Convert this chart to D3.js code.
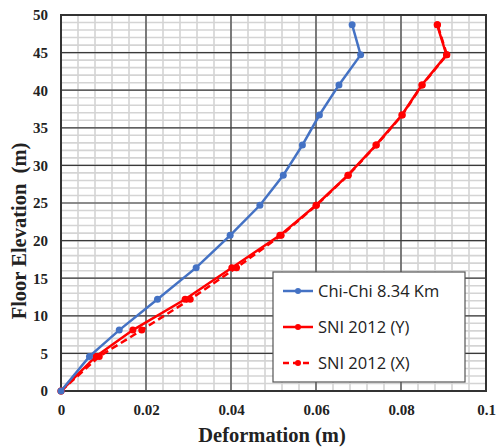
<!doctype html>
<html>
<head>
<meta charset="utf-8"/>
<title>Floor Elevation vs Deformation</title>
<script src="https://d3js.org/d3.v7.min.js"></script>
<style>
  body { margin: 0; background: #fff; }
  .tick text { font-family: "Liberation Serif", serif; font-weight: bold; font-size: 15px; fill: #222; }
</style>
</head>
<body>
<div id="chart"></div>
<script>
// floor levels (m)
var floors = [0, 4.6, 8.1, 12.2, 16.4, 20.7, 24.7, 28.7, 32.7, 36.7, 40.7, 44.7, 48.7];
// deformation (m) per floor
var chiChi = [0, 0.0067, 0.0137, 0.0227, 0.0318, 0.0398, 0.0468, 0.0523, 0.0568, 0.0608, 0.0654, 0.0705, 0.0685];
var sniY   = [0, 0.0082, 0.0169, 0.0292, 0.0402, 0.0515, 0.0600, 0.0675, 0.0741, 0.0802, 0.0849, 0.0907, 0.0885];
var sniX   = [0, 0.0090, 0.0190, 0.0304, 0.0413, 0.0518, 0.0601, 0.0676, 0.0742, 0.0803, 0.0850, 0.0908, 0.0886];

var xTicks = [0, 0.02, 0.04, 0.06, 0.08, 0.1];
var yTicks = [0, 5, 10, 15, 20, 25, 30, 35, 40, 45, 50];

var series = [
  { name: "Chi-Chi 8.34 Km", values: chiChi, color: "#4472C4", dash: null },
  { name: "SNI 2012 (Y)",    values: sniY,   color: "#FF0000", dash: null },
  { name: "SNI 2012 (X)",    values: sniX,   color: "#FF0000", dash: "7,4" }
];

var W = 496, H = 448;
var pL = 61, pR = 486, pT = 15, pB = 391;

var svg = d3.select("#chart").append("svg")
    .attr("width", W)
    .attr("height", H);

var x = d3.scaleLinear().domain([0, 0.1]).range([pL, pR]);
var y = d3.scaleLinear().domain([0, 50]).range([pB, pT]);

// minor grid
var g = svg.append("g");
g.selectAll(".mx").data(d3.range(0, 0.1001, 0.004))
  .enter().append("line")
  .attr("x1", d => x(d)).attr("x2", d => x(d))
  .attr("y1", pT).attr("y2", pB)
  .attr("stroke", "#d4d4d4").attr("stroke-width", 1.6);
g.selectAll(".my").data(d3.range(0, 50.01, 1))
  .enter().append("line")
  .attr("y1", d => y(d)).attr("y2", d => y(d))
  .attr("x1", pL).attr("x2", pR)
  .attr("stroke", "#d4d4d4").attr("stroke-width", 1.6);

// major grid
g.selectAll(".Mx").data(xTicks)
  .enter().append("line")
  .attr("x1", d => x(d)).attr("x2", d => x(d))
  .attr("y1", pT).attr("y2", pB)
  .attr("stroke", "#3a3a3a").attr("stroke-width", 1.2);
g.selectAll(".My").data(yTicks)
  .enter().append("line")
  .attr("y1", d => y(d)).attr("y2", d => y(d))
  .attr("x1", pL).attr("x2", pR)
  .attr("stroke", "#3a3a3a").attr("stroke-width", 1.2);

// frame
svg.append("rect")
  .attr("x", pL).attr("y", pT)
  .attr("width", pR - pL).attr("height", pB - pT)
  .attr("fill", "none").attr("stroke", "#333").attr("stroke-width", 2);

// axes (labels only)
var xAxis = d3.axisBottom(x).tickValues(xTicks).tickSize(0).tickPadding(13)
  .tickFormat(d => d === 0 ? "0" : String(+d.toFixed(2)));
svg.append("g").attr("transform", "translate(0," + pB + ")").call(xAxis)
  .call(s => s.select(".domain").remove());

var yAxis = d3.axisLeft(y).tickValues(yTicks).tickSize(0).tickPadding(13);
svg.append("g").attr("transform", "translate(" + pL + ",0)").call(yAxis)
  .call(s => s.select(".domain").remove());

// axis titles
svg.append("text")
  .attr("x", 272).attr("y", 442)
  .attr("text-anchor", "middle")
  .style("font-family", "Liberation Serif, serif").style("font-weight", "bold")
  .style("font-size", "20.5px").style("fill", "#222")
  .text("Deformation (m)");
svg.append("text")
  .attr("transform", "translate(26,231) rotate(-90)")
  .attr("text-anchor", "middle")
  .style("font-family", "Liberation Serif, serif").style("font-weight", "bold")
  .style("font-size", "20.5px").style("fill", "#222")
  .style("white-space", "pre")
  .text("Floor Elevation  (m)");

// series
var line = d3.line().x(d => x(d[0])).y(d => y(d[1]));
series.slice().reverse().forEach(function (s) {
  var pts = s.values.map((v, i) => [v, floors[i]]);
  svg.append("path")
    .attr("d", line(pts))
    .attr("fill", "none")
    .attr("stroke", s.color)
    .attr("stroke-width", 2.5)
    .attr("stroke-dasharray", s.dash);
  svg.append("g").selectAll("circle").data(pts)
    .enter().append("circle")
    .attr("cx", d => x(d[0])).attr("cy", d => y(d[1]))
    .attr("r", 3.5)
    .attr("fill", s.color);
});

// legend
var lg = svg.append("g");
lg.append("rect")
  .attr("x", 273).attr("y", 272)
  .attr("width", 192).attr("height", 110)
  .attr("fill", "#fff").attr("stroke", "#555").attr("stroke-width", 1.2);
series.forEach(function (s, i) {
  var ly = 291 + i * 36;
  lg.append("line")
    .attr("x1", 283).attr("x2", 313).attr("y1", ly).attr("y2", ly)
    .attr("stroke", s.color).attr("stroke-width", 2.5)
    .attr("stroke-dasharray", s.dash ? "6,4" : null);
  lg.append("circle").attr("cx", 298).attr("cy", ly).attr("r", 3).attr("fill", s.color);
  lg.append("text")
    .attr("x", 318).attr("y", ly + 6)
    .style("font-family", "Open Sans, sans-serif")
    .style("font-size", "16.5px").style("fill", "#222")
    .text(s.name);
});
</script>
</body>
</html>
